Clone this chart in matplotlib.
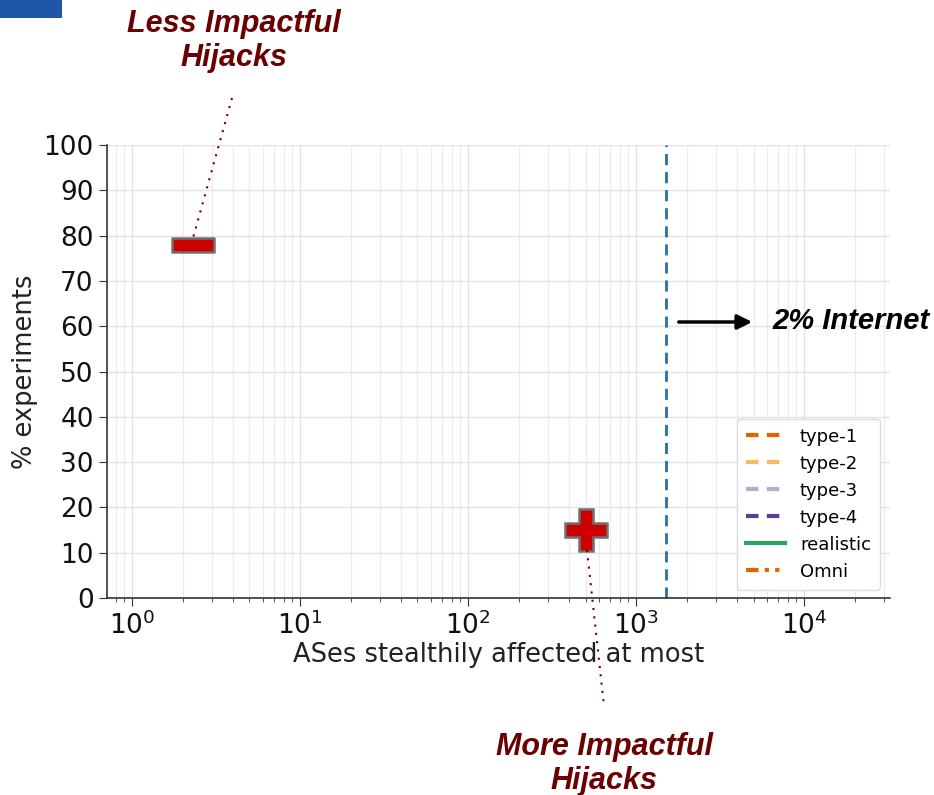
import matplotlib
matplotlib.use("Agg")
import matplotlib.pyplot as plt
from matplotlib.lines import Line2D
from matplotlib.path import Path
from matplotlib.patches import Rectangle

plt.rcParams["font.family"] = ["DejaVu Sans"]

# ---- data ----
legend_labels = ["type-1", "type-2", "type-3", "type-4", "realistic", "Omni"]
legend_colors = ["#e66101", "#fdb863", "#b2abd2", "#5e3c99", "#2ca25f", "#e66101"]
legend_styles = [(0, (3, 2)), (0, (3, 2)), (0, (3, 2)), (0, (3, 2)), "-", (0, (3, 1.5, 1, 1.5, 1, 1.5))]

internet_2pct = 1500          # ASes (2% of the Internet)
less_x, less_y = [2.3], [78]  # less impactful hijacks marker
more_x, more_y = [500], [15]  # more impactful hijacks marker

fig = plt.figure(figsize=(9.34, 7.95), dpi=100)
ax = fig.add_axes([0.1146, 0.2478, 0.8384, 0.5698])

ax.set_xscale("log")
ax.set_xlim(0.71, 32500)
ax.set_ylim(0, 100)
ax.set_yticks(range(0, 101, 10))

for s in ["top", "right"]:
    ax.spines[s].set_visible(False)
for s in ["left", "bottom"]:
    ax.spines[s].set_color("#333333")
    ax.spines[s].set_linewidth(1.2)

ax.grid(True, which="major", color="#e3e3e3", linewidth=1.0)
ax.grid(True, which="minor", axis="x", color="#ececec", linewidth=0.9)
ax.set_axisbelow(True)

ax.tick_params(axis="both", which="major", labelsize=19, length=6, color="#333333", labelcolor="#111111")
ax.tick_params(axis="x", which="minor", length=3, color="#333333")

ax.set_xlabel("ASes stealthily affected at most", fontsize=18.5, color="#222222", labelpad=2)
ax.set_ylabel("% experiments", fontsize=18.5, color="#222222", labelpad=4)

# legend-only series
handles = []
for lab, c, ls in zip(legend_labels, legend_colors, legend_styles):
    h, = ax.plot([], [], color=c, linestyle=ls, linewidth=3, label=lab)
    handles.append(h)
leg = ax.legend(handles=handles, loc="lower right", bbox_to_anchor=(0.987, 0.018),
                borderaxespad=0, fontsize=13, frameon=True, framealpha=1, edgecolor="#dddddd",
                handlelength=2.2, labelspacing=0.5, borderpad=0.5)
leg.get_frame().set_linewidth(1)

# 2% internet line
ax.axvline(internet_2pct, color="#2a6fa8", linestyle=(0, (4, 2.5)), linewidth=2, clip_on=False)

# markers
rect = Path([(-2, -0.7), (2, -0.7), (2, 0.7), (-2, 0.7), (-2, -0.7)],
            [Path.MOVETO, Path.LINETO, Path.LINETO, Path.LINETO, Path.CLOSEPOLY])
ax.plot(less_x, less_y, marker=rect, markersize=30, color="#cc0000",
        markeredgecolor="#707070", markeredgewidth=1.8, linestyle="none", zorder=5, clip_on=False)
ax.plot(more_x, more_y, marker="P", markersize=30, color="#cc0000",
        markeredgecolor="#707070", markeredgewidth=1.8, linestyle="none", zorder=5, clip_on=False)

# annotations (figure pixel coords -> fraction)
W, H = 934, 795
def fx(x): return x / W
def fy(y): return 1 - y / H

dark_red = "#6b0000"
style = dict(ha="center", va="baseline", fontsize=22, fontweight="bold",
             fontstyle="italic", color=dark_red, family="Liberation Sans")
fig.text(fx(234), fy(32), "Less Impactful", **style)
fig.text(fx(234), fy(66), "Hijacks", **style)
fig.text(fx(604), fy(755), "More Impactful", **style)
fig.text(fx(604), fy(789), "Hijacks", **style)
fig.add_artist(Line2D([fx(232), fx(193)], [fy(98), fy(238)], color=dark_red,
                      linestyle=(0, (1, 3)), linewidth=1.5))
fig.add_artist(Line2D([fx(587), fx(604)], [fy(550), fy(706)], color=dark_red,
                      linestyle=(0, (1, 3)), linewidth=1.5))

fig.text(fx(772), fy(321), "2% Internet", ha="left", va="center",
         fontsize=21, fontweight="bold", fontstyle="italic", color="black",
         family="Liberation Sans")
ax.annotate("", xy=(fx(755), fy(322)), xytext=(fx(676), fy(322)),
            xycoords="figure fraction", textcoords="figure fraction",
            arrowprops=dict(arrowstyle="-|>", color="black", lw=2.5, mutation_scale=22))

# slide logo fragment
fig.add_artist(Rectangle((0, fy(18)), fx(62), 18 / H, transform=fig.transFigure,
                         facecolor="#1f56a5", edgecolor="none"))

fig.savefig("out.png", dpi=100)
